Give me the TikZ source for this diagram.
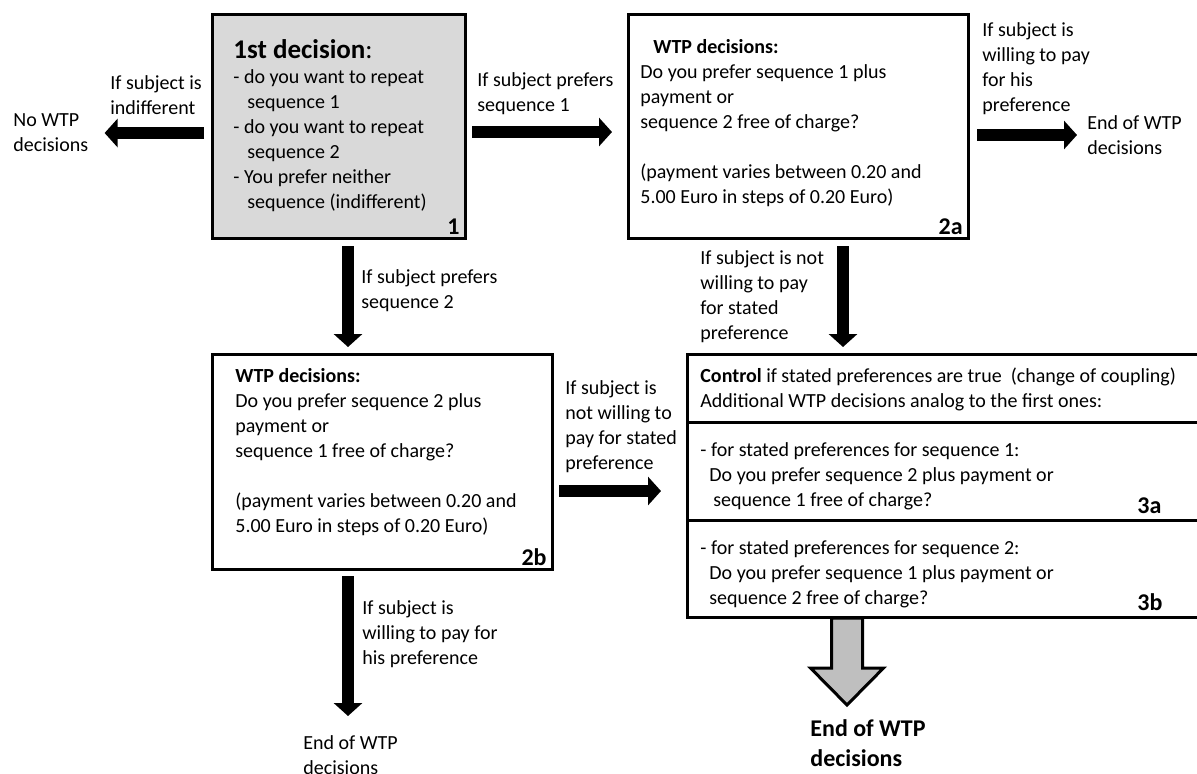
\documentclass[tikz,border=0pt]{standalone}
\usepackage{fontspec}
\setmainfont{Carlito}
\usetikzlibrary{positioning,arrows.meta,calc}

\definecolor{boxgray}{HTML}{D9D9D9}
\definecolor{arrgray}{HTML}{BFBFBF}

\tikzstyle{box} = [
        draw,
        line width=1.5pt,
        rectangle,
        outer sep=0pt,
        inner sep=0pt,
        anchor=north west
    ]
\tikzstyle{txt} = [align=left, inner sep=0pt, font=\fontsize{10}{12.5}\selectfont]
\tikzstyle{tag} = [inner sep=0pt, font=\fontsize{12}{14}\selectfont\bfseries]
\tikzstyle{fat} = [line width=6pt, -{Triangle[width=14pt,length=6.5pt]}]
\tikzstyle{hollow} = [draw, line width=1.5pt, fill=arrgray]

\begin{document}
\begin{tikzpicture}[x=0.5pt, y=-0.5pt]
        \useasboundingbox (0,0) rectangle (1197,773);
        % boxes
        \node(b1) [box, fill=boxgray, minimum width=126.5pt, minimum height=112pt] at (212,14) {};
        \node(b2a) [box, minimum width=170pt, minimum height=112pt] at (628,14) {};
        \node(b2b) [box, minimum width=170pt, minimum height=107.5pt] at (212,354) {};
        \node(b3) [box, minimum width=256.5pt, minimum height=34pt] at (687,354) {};
        \node(b3a) [box, minimum width=256.5pt, minimum height=49pt, below=0pt of b3] {};
        \node(b3b) [box, minimum width=256.5pt, minimum height=48.5pt, below=0pt of b3a] {};
        % box texts
        \node(t1) [txt, anchor=north west, font=\fontsize{13.5}{16}\selectfont] at (233,39)
            {\textbf{1st decision}:};
        \node(l1) [txt, anchor=north west] at (233,69)
            {- do you want to repeat\\\hspace*{7pt}sequence 1\\- do you want to repeat\\
             \hspace*{7pt}sequence 2\\- You prefer neither\\\hspace*{7pt}sequence (indifferent)};
        \node(n1) [tag, anchor=south east] at ($(b1.south east)+(-5,-3)$) {1};
        \node(t2a) [txt, anchor=north west] at (640,39)
            {\hspace*{6.5pt}\textbf{WTP decisions:}\\Do you prefer sequence 1 plus\\payment or\\
             sequence 2 free of charge?\\[12.5pt](payment varies between 0.20 and\\
             5.00 Euro in steps of 0.20 Euro)};
        \node(n2a) [tag, anchor=south east] at ($(b2a.south east)+(-5,-3)$) {2a};
        \node(t2b) [txt, anchor=north west] at (235,368)
            {\textbf{WTP decisions:}\\Do you prefer sequence 2 plus\\payment or\\
             sequence 1 free of charge?\\[12.5pt](payment varies between 0.20 and\\
             5.00 Euro in steps of 0.20 Euro)};
        \node(n2b) [tag, anchor=south east] at ($(b2b.south east)+(-5,-3)$) {2b};
        \node(t3) [txt, anchor=north west] at (700,367)
            {\textbf{Control} if stated preferences are true\ \ (change of coupling)\\
             Additional WTP decisions analog to the first ones:};
        \node(t3a) [txt, anchor=north west] at (700,442)
            {- for stated preferences for sequence 1:\\\hspace*{4.5pt}Do you prefer sequence 2 plus payment or\\
             \hspace*{6.5pt}sequence 1 free of charge?};
        \node(n3a) [tag, anchor=base west] at (1137,513) {3a};
        \node(t3b) [txt, anchor=north west] at (700,540)
            {- for stated preferences for sequence 2:\\\hspace*{4.5pt}Do you prefer sequence 1 plus payment or\\
             \hspace*{4.5pt}sequence 2 free of charge?};
        \node(n3b) [tag, anchor=base west] at (1137,610) {3b};
        % outcomes and conditions
        \node(nowtp) [txt, anchor=west] at (13,133) {No WTP\\decisions};
        \node(lind) [txt, anchor=north west] at (110,75) {If subject is\\indifferent};
        \node(lseq1) [txt, anchor=north west] at (477,72) {If subject prefers\\sequence 1};
        \node(lwill) [txt, anchor=north west] at (982,22)
            {If subject is\\willing to pay\\for his\\preference};
        \node(endr) [txt, anchor=west] at (1087,135) {End of WTP\\decisions};
        \node(lseq2) [txt, anchor=north west] at (361,269) {If subject prefers\\sequence 2};
        \node(lnot1) [txt, anchor=north west] at (700,250)
            {If subject is not\\willing to pay\\for stated\\preference};
        \node(lnot2) [txt, anchor=north west] at (565,380)
            {If subject is\\not willing to\\pay for stated\\preference};
        \node(lwill2) [txt, anchor=north west] at (362,600)
            {If subject is\\willing to pay for\\his preference};
        \node(endb) [txt, anchor=north west] at (303,735) {End of WTP\\decisions};
        \node(endg) [txt, anchor=north west, font=\fontsize{12}{15}\selectfont\bfseries] at (810,719)
            {End of WTP\\decisions};
        \coordinate(e2b) at (348,716);
        \coordinate(gtop) at (847,618);
        % connectors
        \draw[fat, shorten <=4pt, shorten >=8pt] ([yshift=-3.5pt]b1.west) -- (nowtp.east);
        \draw[fat, shorten <=3.5pt, shorten >=8pt] ([yshift=-3pt]b1.east) -- ([yshift=-3pt]b2a.west);
        \draw[fat, shorten <=4.5pt, shorten >=5pt] ([yshift=-4.5pt]b2a.east) -- (endr.west);
        \draw[fat, shorten <=4pt, shorten >=3.5pt] ([xshift=68pt]b1.south west) -- ([xshift=68pt]b2b.north west);
        \draw[fat, shorten <=4pt, shorten >=3.5pt] ([xshift=107.5pt]b2a.south west) -- ([xshift=78pt]b3.north west);
        \draw[fat, shorten <=3.5pt, shorten >=13pt] ([yshift=-14.75pt]b2b.east) -- ([yshift=-10pt]b3a.west);
        \draw[fat, shorten <=3.5pt] ([xshift=68pt]b2b.south west) -- (e2b);
        \draw[hollow] (gtop) ++(-15.5,0) -- ++(0,50) -- ++(-21,0) -- ++(36.5,37)
            -- ++(36.5,-37) -- ++(-21,0) -- ++(0,-50) -- cycle;
    \end{tikzpicture}
\end{document}
